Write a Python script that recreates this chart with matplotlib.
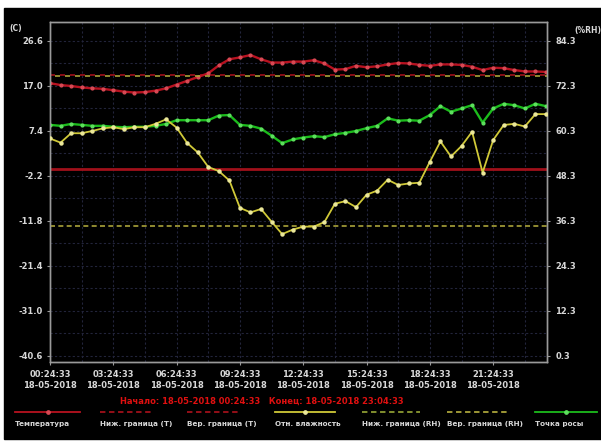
import matplotlib
matplotlib.use("Agg")
import matplotlib.pyplot as plt
import matplotlib.dates as mdates
from matplotlib.lines import Line2D
from matplotlib.patches import Rectangle
import pandas as pd

# ---- data -------------------------------------------------------------
start = pd.Timestamp("2018-05-18 00:24:33")
end_label = pd.Timestamp("2018-05-18 23:04:33")
times = pd.date_range(start, periods=48, freq="30min")

temperature = [17.6, 17.2, 17.0, 16.7, 16.5, 16.4, 16.1, 15.8, 15.6, 15.7,
               16.0, 16.5, 17.3, 18.1, 18.9, 19.7, 21.4, 22.7, 23.1, 23.6,
               22.7, 22.0, 22.0, 22.2, 22.2, 22.5, 21.8, 20.5, 20.6, 21.3,
               21.0, 21.2, 21.6, 21.9, 21.8, 21.5, 21.3, 21.6, 21.6, 21.5,
               21.1, 20.4, 20.9, 20.8, 20.4, 20.1, 20.1, 20.0]

humidity = [58.3, 57.2, 59.7, 59.7, 60.3, 61.0, 61.3, 60.8, 61.3, 61.3,
            62.2, 63.4, 61.2, 57.1, 54.6, 50.7, 49.6, 47.1, 39.8, 38.6,
            39.5, 36.1, 32.8, 34.0, 34.8, 34.8, 36.0, 40.9, 41.6, 40.0,
            43.3, 44.4, 47.3, 45.9, 46.3, 46.5, 52.1, 57.5, 53.5, 56.3,
            60.1, 49.2, 57.9, 61.9, 62.2, 61.5, 64.8, 64.8]

dew_point = [8.7, 8.5, 8.9, 8.7, 8.5, 8.5, 8.3, 8.2, 8.3, 8.3,
             8.5, 8.9, 9.7, 9.7, 9.7, 9.7, 10.7, 10.8, 8.7, 8.5,
             7.9, 6.4, 4.8, 5.6, 6.0, 6.3, 6.1, 6.7, 7.0, 7.4,
             8.0, 8.5, 10.1, 9.6, 9.7, 9.6, 10.8, 12.7, 11.5, 12.2,
             12.9, 9.2, 12.2, 13.2, 12.9, 12.2, 13.2, 12.7]

t_low, t_high = -0.7, 19.4
rh_low, rh_high = 35.0, 75.0

t_ticks = [26.6, 17.0, 7.4, -2.2, -11.8, -21.4, -31.0, -40.6]
rh_ticks = [84.3, 72.3, 60.3, 48.3, 36.3, 24.3, 12.3, 0.3]

legend_labels = ["Температура", "Ниж. граница (T)", "Вер. граница (T)",
                 "Отн. влажность", "Ниж. граница (RH)", "Вер. граница (RH)",
                 "Точка росы"]

# ---- styling ----------------------------------------------------------
W, H = 601, 441
BG = "#000000"
FG = "#d8d8d8"
RED = "#b81220"
RED_DOT = "#d84a55"
RED_LIM = "#a0101a"
YEL = "#d0c938"
YEL_DOT = "#ece89a"
YEL_LIM = "#aaa33a"
YG_LIM = "#8c9a32"
GRN = "#1cbc1c"
GRN_DOT = "#5ee05e"
GRID = "#22243a"
FONT = dict(family="DejaVu Sans", weight="bold", color=FG)

fig = plt.figure(figsize=(W / 100, H / 100), dpi=100, facecolor="white")
fig.add_artist(Rectangle((4 / W, 2 / H), (W - 4) / W, (H - 10) / H,
                         transform=fig.transFigure, color=BG, zorder=-5))

ax = fig.add_axes([50 / W, 1 - 362 / H, 497 / W, 340 / H])
ax.set_facecolor(BG)

# temperature axis range: ticks 9.6 apart, frame slightly beyond them
t_min, t_max = -41.88, 30.65
ax.set_ylim(t_min, t_max)
x0 = mdates.date2num(start.to_pydatetime())
ax.set_xlim(x0, x0 + 23.55 / 24)

def t_to_rh(t):
    return 0.3 + 1.25 * (t + 40.6)

ax2 = ax.twinx()
ax2.set_ylim(t_to_rh(t_min), t_to_rh(t_max))

# grid (major + half steps)
for k in range(16):
    gy = -40.6 + 4.8 * k
    ax.axhline(gy, color=GRID, lw=0.8, ls=(0, (2, 2)), zorder=0)
for k in range(1, 16):
    gx = x0 + 1.5 * k / 24
    ax.axvline(gx, color=GRID, lw=0.8, ls=(0, (2, 2)), zorder=0)

# limit lines
ax.axhline(t_low, color=RED_LIM, lw=2.0, zorder=2)
ax.axhline(t_high, color=RED_LIM, lw=1.2, ls=(0, (3, 3)), zorder=2)
ax2.axhline(rh_high, color=YEL_LIM, lw=1.2, ls=(3, (3, 3)), zorder=2)
ax2.axhline(rh_low, color=YEL_LIM, lw=1.2, ls=(0, (3, 2)), zorder=2)

# series
ax.plot(times, temperature, color=RED, lw=1.7, marker="o", ms=2.0,
        mfc=RED_DOT, mec=RED_DOT, zorder=4)
ax.plot(times, dew_point, color=GRN, lw=1.7, marker="o", ms=2.0,
        mfc=GRN_DOT, mec=GRN_DOT, zorder=4)
ax2.plot(times, humidity, color=YEL, lw=1.3, marker="o", ms=2.2,
         mfc=YEL_DOT, mec=YEL_DOT, zorder=4)

# axes frame and ticks
for a in (ax, ax2):
    for s in a.spines.values():
        s.set_color("#9a9a9a")
        s.set_linewidth(1.0)
    a.tick_params(colors="#9a9a9a", length=2, width=0.8)

ax.set_yticks(t_ticks)
ax.set_yticklabels([f"{v:.1f}" for v in t_ticks], fontsize=6, **FONT)
ax2.set_yticks(rh_ticks)
ax2.set_yticklabels([f"{v:.1f}" for v in rh_ticks], fontsize=6, **FONT)
ax.tick_params(axis="y", pad=3)
ax2.tick_params(axis="y", pad=4)

xt = [x0 + 3 * k / 24 for k in range(8)]
ax.set_xticks(xt)
ax.xaxis.set_major_formatter(mdates.DateFormatter("%H:%M:%S\n%d-%m-%Y"))
for lab in ax.get_xticklabels():
    lab.set_fontsize(6)
    lab.set_fontweight("bold")
    lab.set_color(FG)
    lab.set_linespacing(1.3)
ax.tick_params(axis="x", pad=4)

# axis units
fig.text(9 / W, 1 - 29 / H, "(C)", fontsize=5.5, va="center", ha="left", **FONT)
fig.text(574 / W, 1 - 31 / H, "(%RH)", fontsize=5.5, va="center", ha="left", **FONT)

# period text
fig.text(262 / W, 1 - 401 / H,
         f"Начало: {start:%d-%m-%Y %H:%M:%S}   Конец: {end_label:%d-%m-%Y %H:%M:%S}",
         fontsize=6, ha="center", va="center", family="DejaVu Sans",
         weight="bold", color="#e01010")

# legend row
entries = [
    (legend_labels[0], RED, "-", RED_DOT, 15, 80),
    (legend_labels[1], RED_LIM, (0, (3, 2)), None, 100, 152),
    (legend_labels[2], RED_LIM, (0, (3, 2)), None, 187, 240),
    (legend_labels[3], YEL, "-", YEL_DOT, 275, 335),
    (legend_labels[4], YG_LIM, (0, (3, 2)), None, 362, 420),
    (legend_labels[5], YEL_LIM, (0, (3, 2)), None, 447, 510),
    (legend_labels[6], GRN, "-", GRN_DOT, 535, 597),
]
for label, col, ls, dot, xa, xb in entries:
    yy = 1 - 412 / H
    fig.add_artist(Line2D([xa / W, xb / W], [yy, yy], color=col, lw=1.3,
                          ls=ls, transform=fig.transFigure))
    if dot is not None:
        fig.add_artist(Line2D([(xa + xb) / 2 / W], [yy], color=dot, marker="o",
                              ms=2.4, ls="none", transform=fig.transFigure))
    fig.text(xa / W, 1 - 424 / H, label, fontsize=5.2, ha="left", va="center", **FONT)

fig.savefig("out.png", dpi=100, facecolor="white")
